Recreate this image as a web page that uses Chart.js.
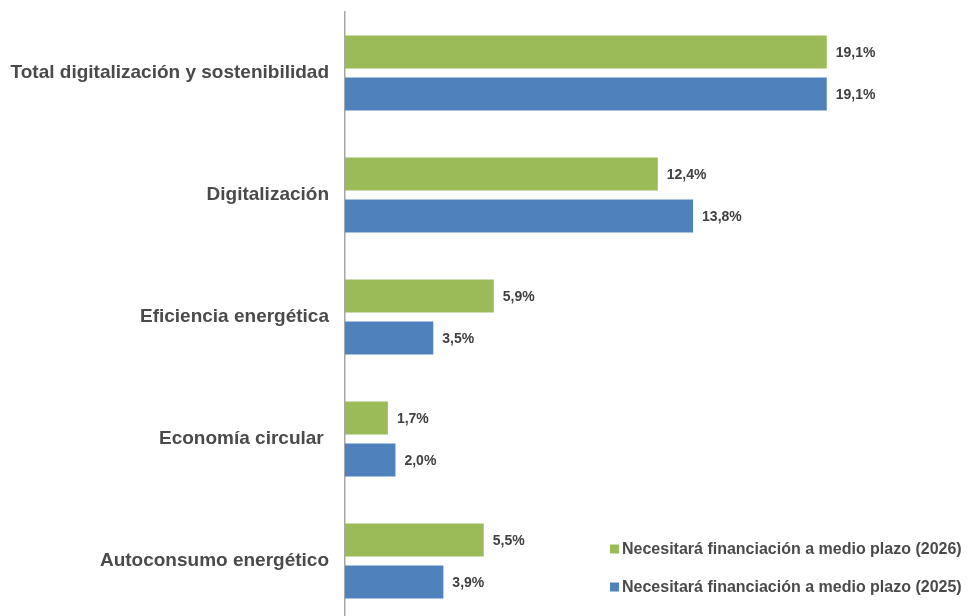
<!DOCTYPE html>
<html>
<head>
<meta charset="utf-8">
<script src="https://cdn.jsdelivr.net/npm/chart.js@4/dist/chart.umd.min.js"></script>
<style>
    html, body { margin: 0; padding: 0; background: #fff; overflow: hidden; }
    #wrap { width: 968px; height: 616px; overflow: hidden; }
</style>
</head>
<body>
<div id="wrap"><canvas id="chart" width="968" height="622"></canvas></div>
<script>
// Categories and series
const categories = [
    'Total digitalización y sostenibilidad',
    'Digitalización',
    'Eficiencia energética',
    'Economía circular ',
    'Autoconsumo energético'
];
const values2026 = [19.1, 12.4, 5.9, 1.7, 5.5];
const values2025 = [19.1, 13.8, 3.5, 2.0, 3.9];
const seriesLabels = [
    'Necesitará financiación a medio plazo (2026)',
    'Necesitará financiación a medio plazo (2025)'
];

const GREEN = '#9bbb59';
const BLUE = '#4f81bd';
const TEXT = '#4a4a4a';
const FONT = '"Liberation Sans", Arial, sans-serif';

function fmt(v) {
    return v.toFixed(1).replace('.', ',') + '%';
}

// Value labels at the end of each bar
const valueLabels = {
    id: 'valueLabels',
    afterDatasetsDraw(chart) {
        const ctx = chart.ctx;
        ctx.save();
        ctx.font = 'bold 14px ' + FONT;
        ctx.fillStyle = '#404040';
        ctx.textAlign = 'left';
        ctx.textBaseline = 'middle';
        chart.data.datasets.forEach((ds, i) => {
            chart.getDatasetMeta(i).data.forEach((bar, j) => {
                ctx.fillText(fmt(ds.data[j]), bar.x + 9, bar.y + 1);
            });
        });
        ctx.restore();
    }
};

// Legend drawn inside the plot, bottom right
const insideLegend = {
    id: 'insideLegend',
    afterDraw(chart) {
        const ctx = chart.ctx;
        const area = chart.chartArea;
        const x = area.right - 358;
        ctx.save();
        ctx.font = 'bold 16px ' + FONT;
        ctx.textBaseline = 'middle';
        ctx.textAlign = 'left';
        chart.data.datasets.forEach((ds, i) => {
            const y = 549 + i * 38;
            ctx.fillStyle = ds.backgroundColor;
            ctx.fillRect(x, y - 4.5, 9, 9);
            ctx.fillStyle = TEXT;
            ctx.fillText(ds.label, x + 12, y + 1);
        });
        ctx.restore();
    }
};

const ctx = document.getElementById('chart').getContext('2d');
new Chart(ctx, {
    type: 'bar',
    data: {
        labels: categories,
        datasets: [
            { label: seriesLabels[0], data: values2026, backgroundColor: GREEN },
            { label: seriesLabels[1], data: values2025, backgroundColor: BLUE }
        ]
    },
    options: {
        indexAxis: 'y',
        responsive: false,
        animation: false,
        layout: { padding: { top: 12, right: 0, bottom: 0, left: 0 } },
        datasets: {
            bar: { categoryPercentage: 0.69, barPercentage: 0.786 }
        },
        scales: {
            x: {
                display: false,
                min: 0,
                max: 24.7
            },
            y: {
                grid: { display: false, drawTicks: false },
                border: { display: true, color: '#a6a6a6', width: 1.5 },
                ticks: {
                    padding: 16,
                    color: TEXT,
                    font: { family: FONT, size: 19, weight: 'bold' }
                },
                afterFit(scale) {
                    scale.width = 345;
                    scale.paddingTop = 0;
                    scale.paddingBottom = 0;
                }
            }
        },
        plugins: {
            legend: { display: false },
            tooltip: { enabled: false }
        }
    },
    plugins: [valueLabels, insideLegend]
});
</script>
</body>
</html>
